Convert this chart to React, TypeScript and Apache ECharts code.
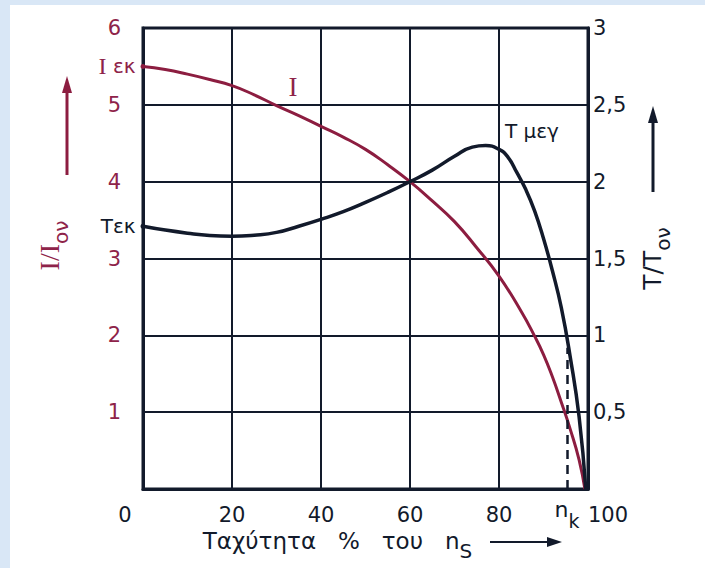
import React, { useEffect, useRef } from "react";
import * as echarts from "echarts";

// Speed (% of synchronous speed) and current ratio I/Ion
const speedI = [0, 5, 10, 15, 20, 25, 30, 35, 40, 45, 50, 55, 60, 65, 70, 75, 80, 85, 88, 90, 92, 94, 96, 98, 99.3];
const currentI = [5.5, 5.46, 5.4, 5.33, 5.25, 5.13, 4.99, 4.86, 4.72, 4.58, 4.42, 4.22, 4.0, 3.75, 3.48, 3.14, 2.77, 2.31, 1.99, 1.75, 1.46, 1.13, 0.78, 0.38, 0.0];

// Speed and torque ratio T/Ton
const speedT = [0, 5, 10, 15, 20, 25, 30, 35, 40, 45, 50, 55, 60, 65, 70, 74, 77, 80, 82, 84, 86, 88, 90, 92, 94, 96, 98, 99.5];
const torqueT = [1.71, 1.685, 1.665, 1.65, 1.645, 1.652, 1.67, 1.71, 1.755, 1.805, 1.865, 1.93, 2.0, 2.075, 2.165, 2.225, 2.235, 2.21, 2.16, 2.06, 1.95, 1.81, 1.63, 1.42, 1.18, 0.86, 0.47, 0.0];

// Axis tick labels
const leftTickLabels = ["", "1", "2", "3", "4", "5", "6"];
const rightTickLabels = ["", "0,5", "1", "1,5", "2", "2,5", "3"];

// Rated speed n_k and dashed marker height (torque units)
const ratedSpeed = 95.3;
const ratedMarkTop = 0.92;

// Annotation anchors (data coordinates)
const currentLabelAt = [33.7, 5.23];
const maxTorqueLabelAt = [87.4, 2.33];

const RED = "#8c1d40";
const RED_TXT = "#8e2349";
const INK = "#121a2b";
const SANS = "DejaVu Sans";
const SERIF = "Liberation Serif";

export default function App() {
  const ref = useRef<HTMLDivElement>(null);

  useEffect(() => {
    if (!ref.current) return;
    const chart = echarts.init(ref.current, undefined, { renderer: "svg" });

    const option: any = {
      animation: false,
      backgroundColor: "transparent",
      grid: {
        left: 143,
        right: 117,
        top: 28,
        bottom: 79,
        show: true,
        borderColor: INK,
        borderWidth: 3,
        backgroundColor: "transparent",
      },
      xAxis: {
        type: "value",
        min: 0,
        max: 100,
        interval: 20,
        axisLine: { show: true, lineStyle: { color: INK, width: 3 } },
        axisTick: { show: false },
        splitLine: { show: true, lineStyle: { color: INK, width: 2 } },
        axisLabel: {
          margin: 15,
          color: INK,
          fontFamily: SANS,
          fontSize: 21,
          formatter: (v: number) => (v === 0 ? "{l|0}" : v === 100 ? "{r|100}" : String(v)),
          rich: {
            l: { padding: [0, 36, 0, 0], fontFamily: SANS, fontSize: 21, color: INK },
            r: { padding: [0, 0, 0, 40], fontFamily: SANS, fontSize: 21, color: INK },
          },
        },
        name: "{t|Ταχύτητα   %   του   n}{s|S}",
        nameLocation: "middle",
        nameGap: 39,
        nameTextStyle: {
          padding: [0, 56, 0, 0],
          rich: {
            t: { fontFamily: SANS, fontSize: 23, color: INK, padding: [0, 0, 8, 0], verticalAlign: "bottom" },
            s: { fontFamily: SANS, fontSize: 20, color: INK, verticalAlign: "bottom" },
          },
        },
      },
      yAxis: [
        {
          type: "value",
          position: "left",
          min: 0,
          max: 6,
          interval: 1,
          axisLine: { show: true, lineStyle: { color: INK, width: 3 } },
          axisTick: { show: false },
          splitLine: { show: true, lineStyle: { color: INK, width: 2 } },
          axisLabel: {
            margin: 22,
            color: RED_TXT,
            fontFamily: SANS,
            fontSize: 21,
            formatter: (v: number) => leftTickLabels[Math.round(v)] ?? "",
          },
          name: "{a|I/I}{b|ον}",
          nameLocation: "middle",
          nameRotate: 90,
          nameGap: 72,
          nameTextStyle: {
            padding: [0, 0, 0, 26],
            rich: {
              a: { fontFamily: SERIF, fontSize: 28, color: RED_TXT, padding: [0, 0, 8, 0], verticalAlign: "bottom" },
              b: { fontFamily: SANS, fontSize: 20, color: RED_TXT, verticalAlign: "bottom" },
            },
          },
        },
        {
          type: "value",
          position: "right",
          min: 0,
          max: 3,
          interval: 0.5,
          axisLine: { show: true, lineStyle: { color: INK, width: 3 } },
          axisTick: { show: false },
          splitLine: { show: false },
          axisLabel: {
            margin: 5,
            color: INK,
            fontFamily: SANS,
            fontSize: 21,
            formatter: (v: number) => rightTickLabels[Math.round(v * 2)] ?? "",
          },
          name: "{a|T/T}{b|ον}",
          nameLocation: "middle",
          nameRotate: 90,
          nameGap: 52,
          nameTextStyle: {
            padding: [0, 0, 0, 0],
            rich: {
              a: { fontFamily: SANS, fontSize: 25, color: INK, padding: [0, 0, 8, 0], verticalAlign: "bottom" },
              b: { fontFamily: SANS, fontSize: 20, color: INK, verticalAlign: "bottom" },
            },
          },
        },
      ],
      series: [
        {
          name: "I",
          type: "line",
          yAxisIndex: 0,
          data: speedI.map((x, i) => [x, currentI[i]]),
          showSymbol: false,
          smooth: 0.5,
          lineStyle: { color: RED, width: 3 },
          z: 3,
          markPoint: {
            symbol: "circle",
            silent: true,
            data: [
              {
                coord: [speedI[0], currentI[0]],
                symbolSize: 5,
                itemStyle: { color: RED },
                label: {
                  show: true,
                  position: "left",
                  distance: 5,
                  formatter: "{a|I}{b| εκ}",
                  rich: {
                    a: { fontFamily: SERIF, fontSize: 24, color: RED_TXT },
                    b: { fontFamily: SANS, fontSize: 20, color: RED_TXT },
                  },
                },
              },
              {
                coord: currentLabelAt,
                symbolSize: 0,
                label: {
                  show: true,
                  position: "inside",
                  formatter: "I",
                  fontFamily: SERIF,
                  fontSize: 27,
                  color: RED_TXT,
                },
              },
            ],
          },
        },
        {
          name: "T",
          type: "line",
          yAxisIndex: 1,
          data: speedT.map((x, i) => [x, torqueT[i]]),
          showSymbol: false,
          smooth: 0.5,
          lineStyle: { color: INK, width: 3.5 },
          z: 4,
          markPoint: {
            symbol: "circle",
            silent: true,
            data: [
              {
                coord: [speedT[0], torqueT[0]],
                symbolSize: 5,
                itemStyle: { color: INK },
                label: {
                  show: true,
                  position: "left",
                  distance: 5,
                  formatter: "Tεκ",
                  fontFamily: SANS,
                  fontSize: 20,
                  color: INK,
                },
              },
              {
                coord: maxTorqueLabelAt,
                symbolSize: 0,
                label: {
                  show: true,
                  position: "inside",
                  formatter: "T μεγ",
                  fontFamily: SANS,
                  fontSize: 20,
                  color: INK,
                },
              },
            ],
          },
          markLine: {
            silent: true,
            symbol: "none",
            lineStyle: { color: INK, width: 2.5, type: [9, 6] },
            label: {
              show: true,
              position: "start",
              distance: 9,
              formatter: "{n|n}{k|k}",
              rich: {
                n: { fontFamily: SANS, fontSize: 22, color: INK, padding: [0, 0, 10, 0], verticalAlign: "bottom" },
                k: { fontFamily: SANS, fontSize: 19, color: INK, verticalAlign: "bottom" },
              },
            },
            data: [[{ coord: [ratedSpeed, 0] }, { coord: [ratedSpeed, ratedMarkTop] }]],
          },
        },
      ],
      graphic: [
        // red arrow (left axis)
        { type: "line", shape: { x1: 67, y1: 175, x2: 67, y2: 88 }, style: { stroke: RED, lineWidth: 3 } },
        { type: "polygon", shape: { points: [[67, 76], [62, 93], [72, 93]] }, style: { fill: RED } },
        // black arrow (right axis)
        { type: "line", shape: { x1: 653, y1: 192, x2: 653, y2: 118 }, style: { stroke: INK, lineWidth: 3 } },
        { type: "polygon", shape: { points: [[653, 106], [648, 123], [658, 123]] }, style: { fill: INK } },
        // arrow after the x-axis title
        { type: "line", shape: { x1: 490, y1: 542, x2: 550, y2: 542 }, style: { stroke: INK, lineWidth: 2 } },
        { type: "polygon", shape: { points: [[562, 542], [547, 537], [547, 547]] }, style: { fill: INK } },
      ],
    };

    chart.setOption(option);
    return () => chart.dispose();
  }, []);

  return (
    <div style={{ position: "fixed", left: 0, top: 0, width: 705, height: 568, background: "#d9e7f6", overflow: "hidden" }}>
      <div style={{ position: "absolute", left: 10, top: 5, width: 695, height: 563, background: "#ffffff" }} />
      <div ref={ref} style={{ position: "absolute", left: 0, top: 0, width: 705, height: 568 }} />
    </div>
  );
}
